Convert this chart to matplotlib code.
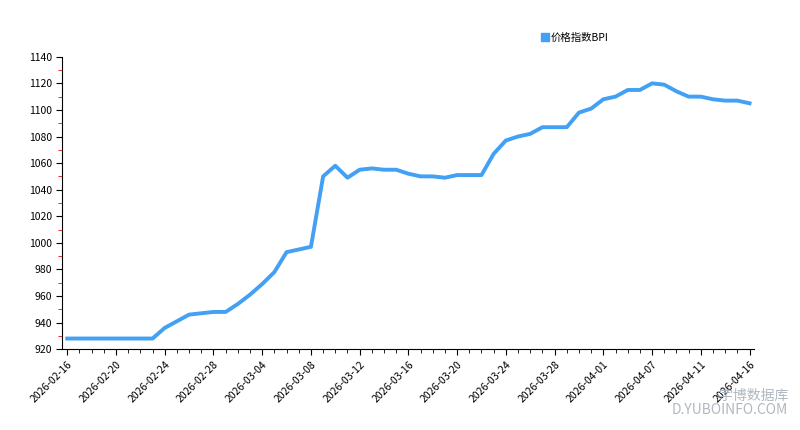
import pandas as pd
import matplotlib.pyplot as plt
from matplotlib.lines import Line2D
from matplotlib.ticker import MultipleLocator

plt.rcParams['font.family'] = ['Noto Sans CJK SC', 'DejaVu Sans']

# trading days (weekends in April missing from the source)
all_days = pd.date_range('2026-02-16', '2026-04-16', freq='D')
skip = pd.to_datetime(['2026-04-04', '2026-04-05', '2026-04-12'])
dates = [d.strftime('%Y-%m-%d') for d in all_days if d not in skip]
bpi = [928, 928, 928, 928, 928, 928, 928, 928, 936, 941,
       946, 947, 948, 948, 954, 961, 969, 978, 993, 995,
       997, 1050, 1058, 1049, 1055, 1056, 1055, 1055, 1052, 1050,
       1050, 1049, 1051, 1051, 1051, 1067, 1077, 1080, 1082, 1087,
       1087, 1087, 1098, 1101, 1108, 1110, 1115, 1115, 1120, 1119,
       1114, 1110, 1110, 1108, 1107, 1107, 1105]
series_name = '价格指数BPI'


def main():
    color = '#42a0f5'
    fig = plt.figure(figsize=(8, 4.3), dpi=100)
    ax = fig.add_axes([0.078, 0.188, 0.865, 0.68])
    x = list(range(len(dates)))
    ax.plot(x, bpi, color=color, lw=2.8)

    ax.set_ylim(920, 1140)
    ax.yaxis.set_major_locator(MultipleLocator(20))
    ax.yaxis.set_minor_locator(MultipleLocator(10))
    ax.tick_params(axis='y', which='minor', color='red', length=3)
    ax.set_xlim(-0.4, len(dates) - 0.6)
    ax.set_xticks(x[::4])
    ax.set_xticklabels(dates[::4], rotation=45, ha='right', rotation_mode='anchor')
    ax.set_xticks(x, minor=True)
    ax.tick_params(labelsize=7.5, length=4)
    ax.tick_params(which='minor', length=3)
    for s in ['top', 'right']:
        ax.spines[s].set_visible(False)

    handle = Line2D([], [], ls='none', marker='s', ms=6, color=color)
    fig.legend([handle], [series_name], loc='center left',
               bbox_to_anchor=(0.665, 0.912), frameon=False, fontsize=7.5,
               handlelength=0.6, handletextpad=0.3)
    fig.text(0.985, 0.03, '宇博数据库\nD.YUBOINFO.COM', ha='right', va='bottom',
             color='#b0b8c0', fontsize=10, linespacing=1.0)
    fig.savefig('out.png')


if __name__ == '__main__':
    main()
